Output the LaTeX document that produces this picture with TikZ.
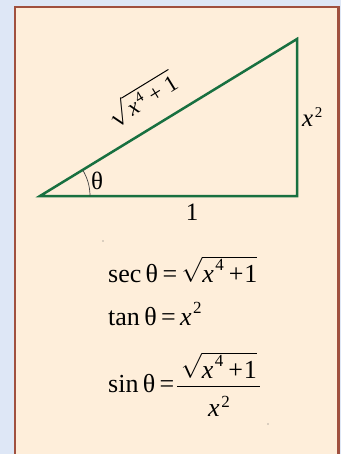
\documentclass[tikz,border=0pt]{standalone}
\usepackage{fontspec}
\setmainfont{Liberation Serif}
\definecolor{bgblue}{RGB}{222,231,246}
\definecolor{cream}{RGB}{254,238,218}
\definecolor{brownb}{RGB}{160,80,62}
\definecolor{trigreen}{RGB}{24,112,64}
\newcommand\sps[3]{\kern1.5pt\raisebox{#2}{\fontsize{#3}{#3}\selectfont #1}}
\tikzset{
  lab/.style={inner sep=0pt, font=\fontsize{25}{30}\selectfont},
  eq/.style={inner sep=0pt, anchor=base west, font=\fontsize{26}{30}\selectfont},
  side/.style={draw=trigreen, line width=2.5pt, line join=miter},
}
\begin{document}
\begin{tikzpicture}[x=1pt,y=-1pt]
\useasboundingbox (0,0) rectangle (341,454);
\fill[bgblue] (0,0) rectangle (341,454);
\filldraw[fill=cream, draw=brownb, line width=2.6pt] (15,7) rectangle (338.7,470);
% triangle
\coordinate (A) at (40,196);
\coordinate (B) at (297,196);
\coordinate (C) at (297,39);
\draw[side] (A) -- (B) -- (C) -- cycle;
\draw[black!75, line width=0.7pt] (90,196) arc[start angle=0, end angle=-31.43, radius=50];
\node[lab] (th) at (97,181) {θ};
\node[lab] (one) at (192,212) {1};
\node[lab, anchor=base west] (xx) at (302,127) {\textit{x}\sps{2}{9pt}{15}};
\node[inner sep=0pt, rotate=31.43, font=\fontsize{23}{26}\selectfont] (hyp) at (142,99)
  {$\sqrt{\mbox{\itshape x\upshape\sps{4}{8pt}{15}\ + 1}}$};
% equations
\node[eq] (sec) at (108,282) {sec\,θ\,=\,$\sqrt{\mbox{\itshape x\upshape\sps{4}{12pt}{17}\kern5pt+\kern1pt1}}$};
\node[eq] (tan) at (108,325) {tan\,θ\,=\,\textit{x}\sps{2}{12pt}{17}};
\node[eq] (sin) at (108,392) {sin\,θ\,=};
\node[eq, anchor=base] (num) at (219,378) {$\sqrt{\mbox{\itshape x\upshape\sps{4}{12pt}{17}\kern5pt+\kern1pt1}}$};
\node[eq, anchor=base] (den) at (219,416) {\textit{x}\sps{2}{9pt}{17}};
\draw[line width=1pt] (177,386) -- (260,386);
% specks
\fill[black!60] (103,241) circle (0.6);
\fill[black!60] (268,424) circle (0.6);
\end{tikzpicture}
\end{document}
